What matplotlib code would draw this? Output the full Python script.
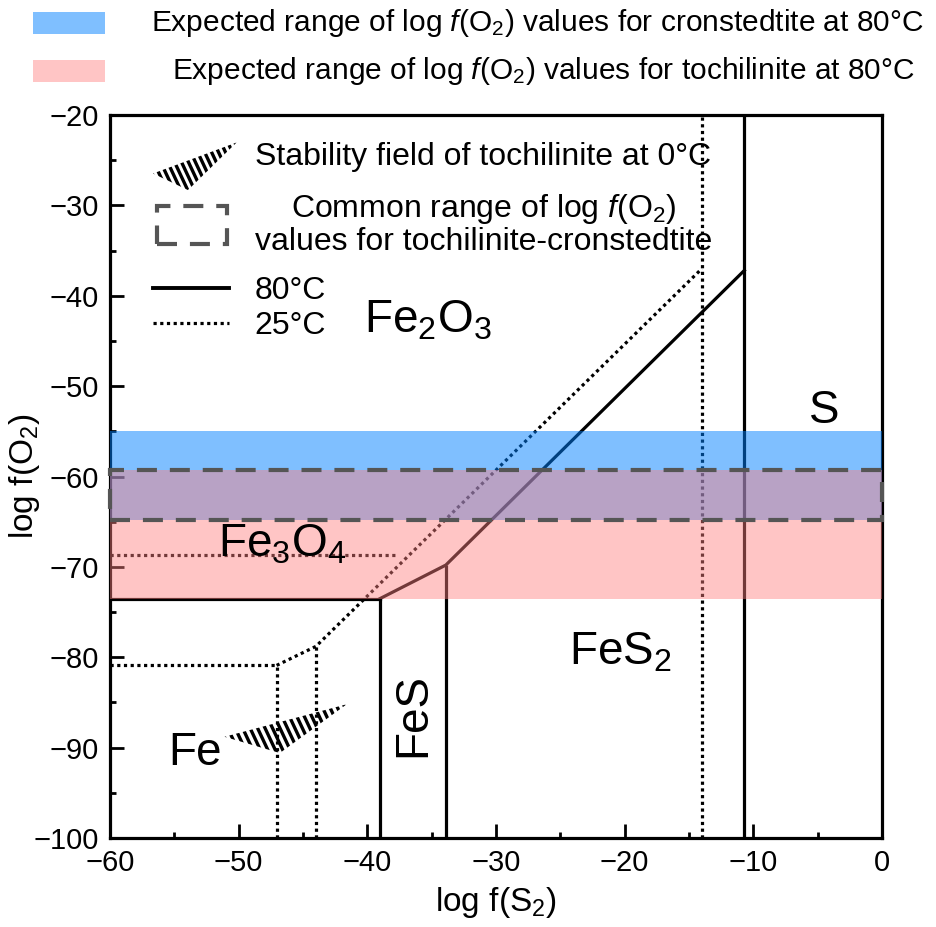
import numpy as np
import matplotlib
matplotlib.use("Agg")
import matplotlib.pyplot as plt
from matplotlib.patches import Polygon, Rectangle, Patch
from matplotlib.lines import Line2D
from matplotlib.collections import LineCollection
from matplotlib.legend_handler import HandlerPatch, HandlerBase
from matplotlib.ticker import MultipleLocator

plt.rcParams['font.family'] = ['Liberation Sans', 'DejaVu Sans']
plt.rcParams['mathtext.fontset'] = 'custom'
plt.rcParams['mathtext.rm'] = 'Liberation Sans'
plt.rcParams['mathtext.it'] = 'Liberation Sans:italic'

# 80 C boundaries (solid)
h80_x = [-60, -39.0]
h80_y = [-73.5, -73.5]
diag80_x = [-39.0, -33.9, -10.7]
diag80_y = [-73.5, -69.8, -37.2]
vert80_x = [-39.0, -33.9, -10.7]
vert80_top = [-73.5, -69.8, -20]

# 25 C boundaries (dotted)
h25a_x = [-60, -37.8]
h25a_y = [-68.7, -68.7]
h25b_x = [-60, -47.05]
h25b_y = [-80.9, -80.9]
diag25_x = [-47.05, -44.0, -14.0]
diag25_y = [-80.9, -78.8, -37.0]
vert25_x = [-47.05, -44.0, -14.0]
vert25_top = [-80.9, -78.8, -20]

# tochilinite stability field at 0 C
toch_x = [-51.1, -41.6, -46.8]
toch_y = [-88.8, -85.2, -90.6]

# expected log f(O2) ranges at 80 C
cron_range = [-64.8, -55.0]
toch_range = [-73.5, -59.3]

# phase labels
phases = ["Fe$_2$O$_3$", "Fe$_3$O$_4$", "FeS$_2$", "S", "Fe"]
phase_x = [-35.3, -46.6, -20.35, -4.5, -53.4]
phase_y = [-44.1, -68.8, -80.8, -54.1, -91.9]

blue = (0.0, 0.5, 1.0)
pink = (1.0, 0.5, 0.5)
gray = '#555555'


def stripes(xmin, xmax, ymin, ymax, step, lean):
    # slanted hatch lines covering a box, leaning right going down
    h = ymax - ymin
    return [[(c, ymax), (c + lean*h, ymin)]
            for c in np.arange(xmin - lean*h - step, xmax + step, step)]


fig = plt.figure(figsize=(9.36, 9.27), dpi=100)
ax = fig.add_axes([110/936, 89/927, 772/936, 723/927])

lw = 2.3
dot = (0, (1, 1.1))
ax.plot(h80_x, h80_y, color='black', lw=lw)
ax.plot(diag80_x, diag80_y, color='black', lw=lw)
ax.vlines(vert80_x, -100, vert80_top, color='black', lw=lw)

ax.plot(h25a_x, h25a_y, color='black', lw=lw, ls=dot)
ax.plot(h25b_x, h25b_y, color='black', lw=lw, ls=dot)
ax.plot(diag25_x, diag25_y, color='black', lw=lw, ls=dot)
ax.vlines(vert25_x, -100, vert25_top, color='black', lw=lw, linestyles=[dot])

ax.axhspan(*cron_range, color=blue, alpha=0.5, lw=0, zorder=3)
ax.axhspan(*toch_range, color=pink, alpha=0.45, lw=0, zorder=3)

common = (max(cron_range[0], toch_range[0]), min(cron_range[1], toch_range[1]))
dash = (0, (4.8, 3.1))
rect = Rectangle((-60, common[0]), 60, common[1] - common[0], fill=False,
                 edgecolor=gray, lw=3, ls=dash, zorder=4, clip_on=False)
ax.add_patch(rect)

tri = Polygon(list(zip(toch_x, toch_y)), closed=True, facecolor='none', lw=0)
ax.add_patch(tri)
hatch = LineCollection(stripes(min(toch_x), max(toch_x), min(toch_y), max(toch_y), 0.58, 0.33),
                       colors='black', linewidths=2.4, zorder=2)
ax.add_collection(hatch)
hatch.set_clip_path(tri)

for s, x, y in zip(phases, phase_x, phase_y):
    ax.text(x, y, s, fontsize=33, ha='center', va='baseline', zorder=5)
ax.text(-36.4, -86.4, "FeS", fontsize=33, rotation=90, ha='center', va='center', zorder=5)

ax.set_xlim(-60, 0)
ax.set_ylim(-100, -20)
ax.xaxis.set_major_locator(MultipleLocator(10))
ax.xaxis.set_minor_locator(MultipleLocator(5))
ax.yaxis.set_major_locator(MultipleLocator(10))
ax.yaxis.set_minor_locator(MultipleLocator(5))
ax.tick_params(which='both', direction='in', width=2, labelsize=21, pad=8)
ax.tick_params(which='major', length=10)
ax.tick_params(which='minor', length=4.5)
for sp in ax.spines.values():
    sp.set_linewidth(2.3)
ax.set_xlabel("log f(S$_2$)", fontsize=24, labelpad=6)
ax.set_ylabel("log f(O$_2$)", fontsize=24)
ax.yaxis.set_label_coords(-0.088, 0.5)


# legend inside the axes
class HatchTriHandler(HandlerBase):
    def create_artists(self, legend, orig_handle, xdescent, ydescent,
                       width, height, fontsize, trans):
        x0, y0 = -xdescent, -ydescent
        poly = Polygon([[x0, y0 - 0.36*height], [x0 + 1.1*width, y0 + 1.03*height],
                        [x0 + 0.46*width, y0 - 1.1*height]],
                       closed=True, facecolor='none', lw=0, transform=trans)
        lc = LineCollection(stripes(x0, x0 + 1.1*width, y0 - 1.1*height,
                                    y0 + 1.03*height, 5.0, 0.47),
                            colors='black', linewidths=2.4, transform=trans)
        lc.set_clip_path(poly)
        return [poly, lc]


def box_handle(legend, orig_handle, xdescent, ydescent, width, height, fontsize):
    return Rectangle((0.05*width - xdescent, -0.35*height - ydescent),
                     0.92*width, 1.7*height)


leg_opts = dict(loc='upper left', borderpad=0, borderaxespad=0, frameon=False,
                fontsize=23, handlelength=2.38, handletextpad=0.8)

h_tri = Patch(facecolor='none')
h_box = Patch(facecolor='none', edgecolor=gray, lw=3, ls=dash)
leg1 = ax.legend([h_tri, h_box],
                 ["Stability field of tochilinite at 0°C",
                  "Common range of log $f$(O$_2$)\nvalues for tochilinite-cronstedtite"],
                 handler_map={h_tri: HatchTriHandler(),
                              h_box: HandlerPatch(patch_func=box_handle)},
                 bbox_to_anchor=(0.0557, 0.962), labelspacing=0.62, **leg_opts)
leg1.set_zorder(6)
leg1.get_texts()[1].set_multialignment('center')
leg1.get_texts()[1].set_linespacing(1.05)
ax.add_artist(leg1)

h_80 = Line2D([], [], color='black', lw=2.8)
h_25 = Line2D([], [], color='black', lw=2.3, ls=dot)
leg2 = ax.legend([h_80, h_25], ["80°C", "25°C"], bbox_to_anchor=(0.0557, 0.777),
                 labelspacing=0.15, **leg_opts)
leg2.set_zorder(6)

# legend above the axes
top_items = [(blue, 0.5, 537, "Expected range of log $f$(O$_2$) values for cronstedtite at 80°C"),
             (pink, 0.45, 543, "Expected range of log $f$(O$_2$) values for tochilinite at 80°C")]
for i, (c, a, xc, s) in enumerate(top_items):
    yc = 23 + 48*i
    fig.add_artist(Rectangle((33/936, 1 - (yc + 11)/927), 72/936, 22/927,
                             transform=fig.transFigure, facecolor=c, alpha=a, lw=0))
    fig.text(xc/936, 1 - yc/927, s, fontsize=21.5, ha='center', va='center')

fig.savefig("out.png", dpi=100)
